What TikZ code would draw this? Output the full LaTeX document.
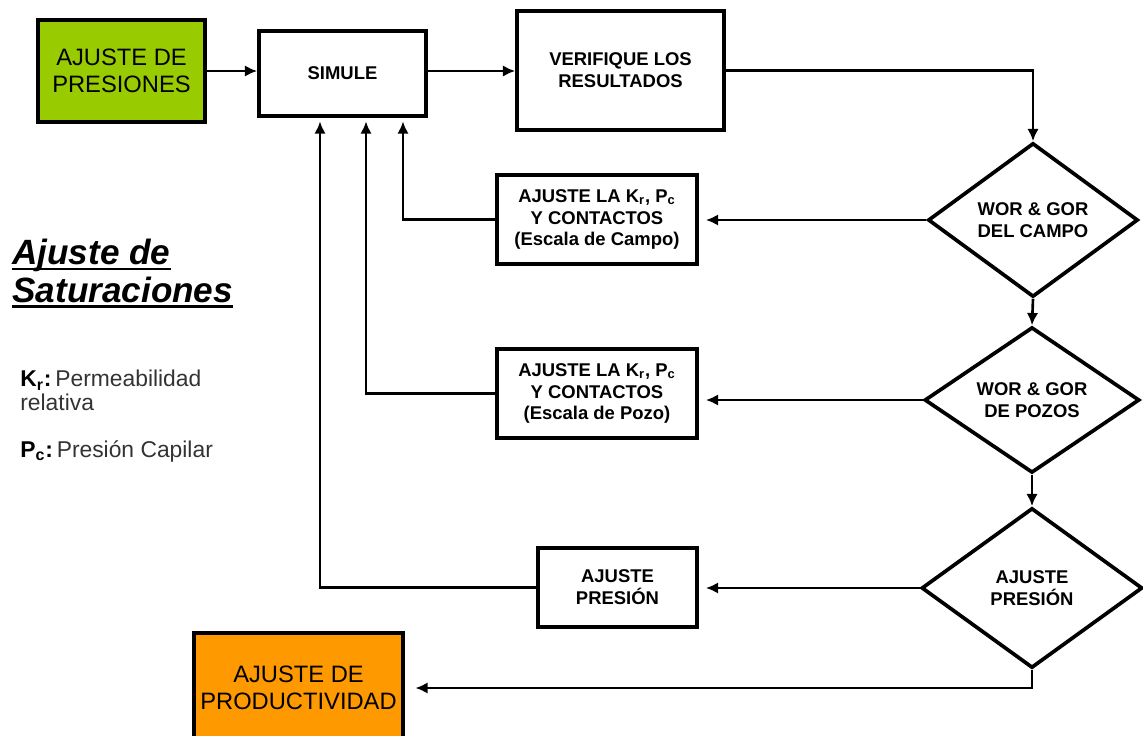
\documentclass[tikz,border=0pt]{standalone}
\usepackage{fontspec}
\setmainfont{Liberation Sans}
\setsansfont{Liberation Sans}
\usepackage{tikz}
\usetikzlibrary{arrows.meta,positioning,shapes.geometric,calc}
\definecolor{FlowGreen}{HTML}{99CC00}
\definecolor{FlowOrange}{HTML}{FF9900}
\definecolor{FlowInk}{HTML}{000000}
\definecolor{FlowNote}{HTML}{333333}
\newcommand{\thickul}[1]{\setbox0\hbox{#1}\rlap{\rule[-3.2pt]{\wd0}{1.6pt}}\box0}
\tikzset{
  flowtext/.style={font=\sffamily\bfseries\fontsize{10.5}{12.5}\selectfont, text=FlowInk, align=center},
  flowbox/.style={flowtext, draw=FlowInk, line width=2.1pt, fill=white, inner sep=2pt},
  startbox/.style={flowbox, font=\sffamily\fontsize{13.5}{15.5}\selectfont},
  flowdiamond/.style={flowtext, diamond, draw=FlowInk, line width=2.1pt, fill=white, inner sep=0pt},
  flowarrow/.style={-{Latex[length=7pt,width=6.5pt]}, line width=1.5pt, draw=FlowInk},
  notetext/.style={font=\sffamily\fontsize{13}{13.5}\selectfont, text=FlowNote, align=left, inner sep=0pt}
}
\begin{document}
\begin{tikzpicture}[x=0.02cm, y=-0.02cm]
\useasboundingbox (0,0) rectangle (1143,735);
% main column
\node[startbox, fill=FlowGreen, minimum width=3.34cm, minimum height=2.04cm] (pres) at (121.5,71) {AJUSTE DE\\PRESIONES};
\node[flowbox, minimum width=3.34cm, minimum height=1.7cm] (simule) at (342.5,73.5) {SIMULE};
\node[flowbox, minimum width=4.14cm, minimum height=2.38cm] (verif) at (620.5,70.5) {VERIFIQUE LOS\\RESULTADOS};
% decisions
\node[flowdiamond, minimum width=4.2cm, minimum height=3.08cm] (campo) at (1033,220) {WOR \& GOR\\DEL CAMPO};
\node[flowdiamond, minimum width=4.3cm, minimum height=2.8cm] (pozos) at (1032,400) {WOR \& GOR\\DE POZOS};
\node[flowdiamond, minimum width=4.42cm, minimum height=3.2cm] (presd) at (1032,588) {AJUSTE\\PRESIÓN};
% adjustments
\node[flowbox, minimum width=4cm, minimum height=1.78cm] (ajcampo) at (597,219.5) {AJUSTE LA K\textsubscript{r}, P\textsubscript{c}\\Y CONTACTOS\\(Escala de Campo)};
\node[flowbox, minimum width=4cm, minimum height=1.78cm] (ajpozo) at (597,393.5) {AJUSTE LA K\textsubscript{r}, P\textsubscript{c}\\Y CONTACTOS\\(Escala de Pozo)};
\node[flowbox, minimum width=3.18cm, minimum height=1.58cm] (ajpres) at (617.5,587.5) {AJUSTE\\PRESIÓN};
\node[startbox, fill=FlowOrange, minimum width=4.18cm, minimum height=2.2cm] (prod) at (298.5,688) {AJUSTE DE\\PRODUCTIVIDAD};
% legend
\node[notetext, anchor=north west, font=\sffamily\bfseries\itshape\fontsize{20}{21.5}\selectfont, text=FlowInk] (title) at (12,239) {\thickul{Ajuste de}\\\thickul{Saturaciones}};
\node[notetext, anchor=north west] (krnote) at (20,370) {\textbf{\color{FlowInk}K\textsubscript{r}:}\,Permeabilidad\\relativa};
\node[notetext, anchor=north west] (pcnote) at (20,440) {\textbf{\color{FlowInk}P\textsubscript{c}:}\,Presión Capilar};
% connectors
\draw[flowarrow] (pres.east) -- (pres.east -| simule.west);
\draw[flowarrow] (simule.east |- 0,71) -- (verif.west |- 0,71);
\draw[flowarrow] (verif.east) -| (campo.north);
\draw[flowarrow] (campo.south) -- (pozos.north);
\draw[flowarrow] (pozos.south) -- (presd.north);
\draw[flowarrow, shorten >=4pt] (campo.west) -- (campo.west -| ajcampo.east);
\draw[flowarrow, shorten >=4pt] (pozos.west) -- (pozos.west -| ajpozo.east);
\draw[flowarrow, shorten >=4pt] (presd.west) -- (presd.west -| ajpres.east);
\draw[flowarrow, shorten >=2pt] (ajcampo.west) -| ([xshift=1.21cm]simule.south);
\draw[flowarrow, shorten >=2pt] (ajpozo.west) -| ([xshift=0.47cm]simule.south);
\draw[flowarrow, shorten >=2pt] (ajpres.west) -| ([xshift=-0.45cm]simule.south);
\draw[flowarrow, shorten >=6pt] (presd.south) |- (prod.east);
\end{tikzpicture}
\end{document}
